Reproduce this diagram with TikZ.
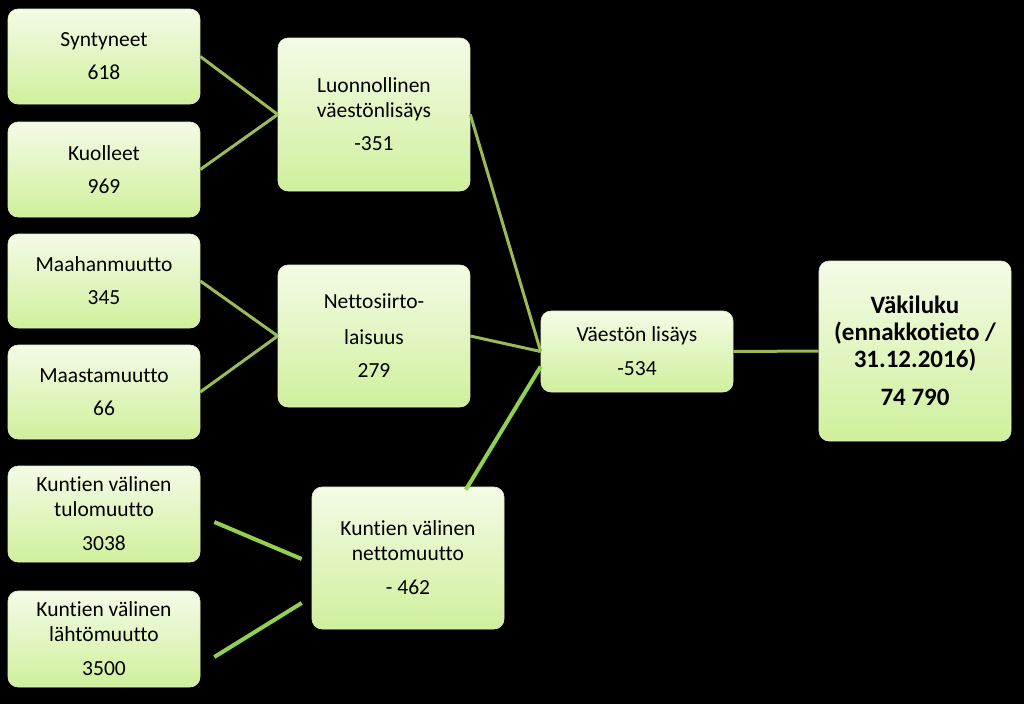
\documentclass[tikz,border=0pt]{standalone}
\usepackage{fontspec}
\setmainfont{Carlito}[Ligatures={NoCommon,NoContextual},Contextuals={NoAlternate}]
\usepackage{tikz}
\usetikzlibrary{calc}
\definecolor{boxtop}{RGB}{244,251,230}
\definecolor{boxbot}{RGB}{207,240,156}
\definecolor{boxline}{RGB}{222,240,196}
\definecolor{olive}{RGB}{155,187,89}
\definecolor{bright}{RGB}{146,208,80}
\tikzset{
  databox/.style={rectangle, rounded corners=10pt, top color=boxtop, bottom color=boxbot,
    draw=boxline, line width=0.6pt, minimum width=192pt, inner sep=0pt,
    align=center, font=\fontsize{21.5}{25}\selectfont},
  olink/.style={draw=olive, line width=3pt},
  glink/.style={draw=bright, line width=4pt},
}
\begin{document}
\begin{tikzpicture}[x=1pt,y=-1pt]
  \fill[black] (0,0) rectangle (1024,704);
  \useasboundingbox (0,0) rectangle (1024,704);
%%
  % Node: syntyneet
  \node[databox, minimum height=95pt] (synt) at (104,56.5) {Syntyneet\\[8pt]618};
  % Node: kuolleet
  \node[databox, minimum height=95pt] (kuol) at (104,169.5) {Kuolleet\\[8pt]969};
  % Node: maahanmuutto
  \node[databox, minimum height=94pt] (maah) at (104,281) {Maahanmuutto\\[8pt]345};
  % Node: maastamuutto
  \node[databox, minimum height=94pt] (maas) at (104,392) {Maastamuutto\\[8pt]66};
  % Node: tulomuutto
  \node[databox, minimum height=96pt] (tulo) at (104,514) {Kuntien välinen\\tulomuutto\\[9pt]3038};
  % Node: lahtomuutto
  \node[databox, minimum height=96pt] (lahto) at (104,639) {Kuntien välinen\\lähtömuutto\\[9pt]3500};
  % Node: luonnollinen
  \node[databox, minimum height=153pt] (luon) at (374,114.5) {Luonnollinen\\väestönlisäys\\[8pt]-351};
  % Node: nettosiirto
  \node[databox, minimum height=142pt] (nett) at (374,336) {Nettosiirto-\\[11pt]laisuus\\[8pt]279};
  % Node: nettomuutto
  \node[databox, minimum height=142pt] (kvn) at (408,558) {Kuntien välinen\\nettomuutto\\[9pt]- 462};
  % Node: vaeston lisays
  \node[databox, minimum height=81pt] (vl) at (637,351.5) {Väestön lisäys\\[9pt]-534};
  % Node: vakiluku
  \node[databox, minimum height=180pt, font=\fontsize{25}{27}\selectfont\bfseries] (vk) at (915,351)
    {Väkiluku\\(ennakkotieto /\\31.12.2016)\\[11pt]74 790};
%%
  % Edge: synt -> luon
  \draw[olink] (synt.east) -- (luon.west);
  % Edge: kuol -> luon
  \draw[olink] (kuol.east) -- (luon.west);
  % Edge: maah -> nett
  \draw[olink] (maah.east) -- (nett.west);
  % Edge: maas -> nett
  \draw[olink] (maas.east) -- (nett.west);
  % Edge: tulo -> kvn
  \coordinate (tuloA) at ([shift={(14pt,-8pt)}]tulo.east);
  \coordinate (tuloB) at ([shift={(-10pt,-1pt)}]kvn.west);
  \draw[glink] (tuloA) -- (tuloB);
  % Edge: lahto -> kvn
  \coordinate (lahtoA) at ([shift={(14pt,-18pt)}]lahto.east);
  \coordinate (lahtoB) at ([shift={(-10pt,-45pt)}]kvn.west);
  \draw[glink] (lahtoA) -- (lahtoB);
  % Edge: luon -> vl
  \draw[olink] (luon.east) -- (vl.west);
  % Edge: nett -> vl
  \draw[olink] (nett.east) -- (vl.west);
  % Edge: kvn -> vl
  \coordinate (kvnA) at ($(kvn.north west)!0.8!(kvn.north east)+(0,3)$);
  \draw[glink] (kvnA) -- ([yshift=-15pt]vl.west);
  % Edge: vl -> vk
  \draw[olink] (vl.east) -- (vk.west);
%
\end{tikzpicture}
\end{document}
